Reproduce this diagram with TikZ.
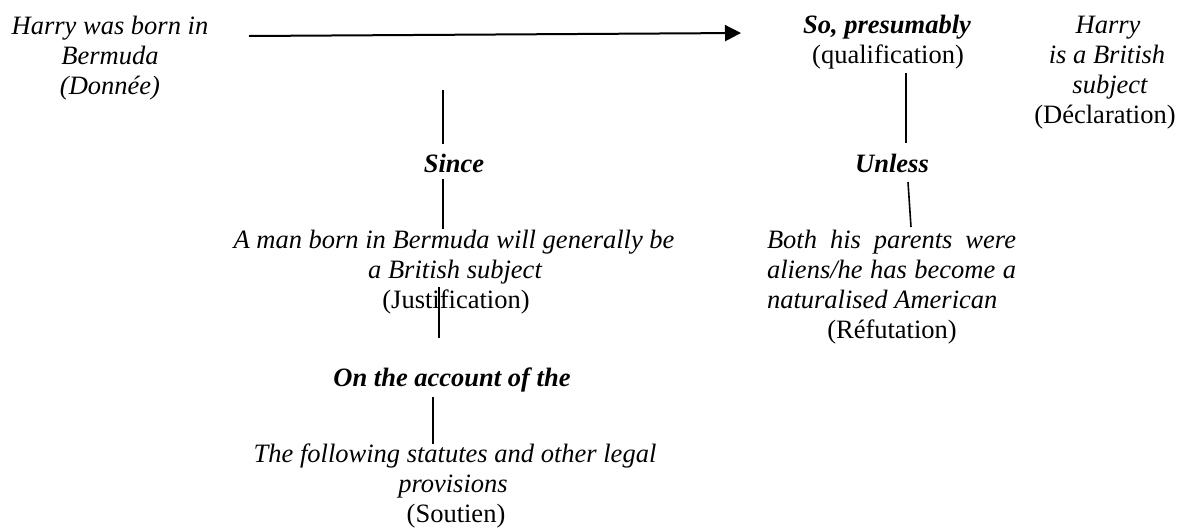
\documentclass[tikz,border=0pt]{standalone}
\usepackage{fontspec}
\setmainfont{Liberation Serif}
\usetikzlibrary{arrows.meta}
\begin{document}
\begin{tikzpicture}[x=1pt,y=-1pt,
  txt/.style={anchor=base,inner sep=0pt,font=\fontsize{26.5}{30}\selectfont},
  it/.style={txt,font=\fontsize{26.5}{30}\selectfont\itshape},
  bi/.style={txt,font=\fontsize{26.5}{30}\selectfont\bfseries\itshape},
  conn/.style={line width=1.6pt},
  arr/.style={line width=2pt,-{Triangle[length=16pt,width=16pt]}}
]
\fill[white] (0,0) rectangle (1184,528);
\useasboundingbox (0,0) rectangle (1184,528);

% Donnee
\node[it] (d1) at (110,34) {Harry was born in};
\node[it] (d2) at (110,64) {Bermuda};
\node[it] (d3) at (110,94) {(Donnée)};

% qualification
\node[bi] (q1) at (887,33) {So, presumably};
\node[txt] (q2) at (888,63) {(qualification)};

% Declaration
\node[it] (c1) at (1108,33) {Harry};
\node[it] (c2) at (1107,63) {is a British};
\node[it] (c3) at (1110,93) {subject};
\node[txt] (c4) at (1105,123) {(Déclaration)};

% Since / Justification
\node[bi] (since) at (454,172) {Since};
\node[it] (w1) at (454,248) {A man born in Bermuda will generally be};
\node[it] (w2) at (455,278) {a British subject};
\node[txt] (w3) at (456,308) {(Justification)};

% Soutien
\node[bi] (acc) at (452,386) {On the account of the};
\node[it] (b1) at (455,462) {The following statutes and other legal};
\node[it] (b2) at (453,492) {provisions};
\node[txt] (b3) at (456,522) {(Soutien)};

% Unless / Refutation
\node[bi] (unless) at (892,172) {Unless};
\node[it] (r1) at (891.5,248) {\hbox to 249pt{Both\hfill his\hfill parents\hfill were}};
\node[it] (r2) at (891.5,278) {\hbox to 249pt{aliens/he\hfill has\hfill become\hfill a}};
\node[it] (r3) at (891.5,308) {\hbox to 249pt{naturalised American\hfill}};
\node[txt] (r4) at (892,338) {(Réfutation)};

% connector end points
\coordinate (a0) at (249,36);
\coordinate (a1) at (741,33);
\coordinate (s0) at (443,90);
\coordinate (s1) at (443,144);
\coordinate (s2) at (443,179);
\coordinate (s3) at (443,229);
\coordinate (j0) at (439,287);
\coordinate (j1) at (439,338);
\coordinate (o0) at (433,397);
\coordinate (o1) at (433,444);
\coordinate (u0) at (906,73);
\coordinate (u1) at (906,143);
\coordinate (u2) at (908,182);
\coordinate (u3) at (911,227);

\draw[arr] (a0) -- (a1);
\draw[conn] (s0) -- (s1);
\draw[conn] (s2) -- (s3);
\draw[conn] (j0) -- (j1);
\draw[conn] (o0) -- (o1);
\draw[conn] (u0) -- (u1);
\draw[conn] (u2) -- (u3);
\end{tikzpicture}
\end{document}
